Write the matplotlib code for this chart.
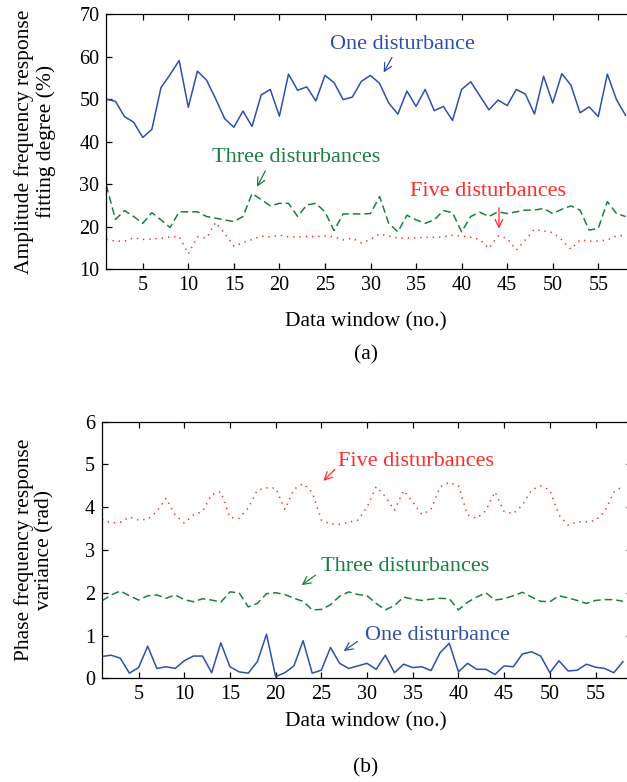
import numpy as np
import matplotlib
matplotlib.use("Agg")
import matplotlib.pyplot as plt

plt.rcParams["font.family"] = ["Liberation Serif", "DejaVu Serif"]

# data window index
windows = np.arange(1, 59)

# (a) amplitude frequency response fitting degree (%)
amp_one = [50.0, 49.5, 45.9, 44.6, 41.0, 42.9, 52.7, 55.8, 59.1, 48.1,
           56.6, 54.5, 50.1, 45.4, 43.4, 47.2, 43.6, 51.0, 52.3, 46.0,
           55.9, 52.1, 52.9, 49.6, 55.6, 53.9, 49.9, 50.5, 54.2, 55.6,
           53.7, 49.1, 46.5, 51.9, 48.3, 52.3, 47.3, 48.3, 45.0, 52.3,
           54.1, 50.8, 47.5, 49.8, 48.5, 52.3, 51.2, 46.5, 55.4, 49.1,
           56.0, 53.3, 46.8, 48.2, 45.9, 55.9, 49.9, 46.2]
amp_three = [29.8, 21.7, 23.8, 22.4, 20.8, 23.3, 21.6, 19.8, 23.5, 23.5,
             23.5, 22.4, 22.0, 21.6, 21.2, 22.4, 27.8, 26.4, 24.9, 25.5,
             25.5, 22.4, 25.1, 25.5, 23.5, 19.1, 23.0, 23.0, 23.0, 23.1,
             27.1, 20.8, 18.8, 22.7, 21.6, 20.8, 21.6, 23.8, 23.3, 18.8,
             22.4, 23.4, 22.4, 23.5, 23.1, 23.5, 23.9, 23.9, 24.3, 23.1,
             24.1, 24.9, 23.9, 19.2, 19.6, 25.9, 23.1, 22.4]
amp_five = [17.0, 16.6, 16.6, 17.4, 17.0, 17.1, 17.3, 17.6, 17.7, 13.6,
            17.6, 17.3, 21.0, 18.4, 15.4, 16.2, 17.0, 17.8, 17.6, 18.0,
            17.6, 17.6, 17.7, 17.7, 17.8, 17.6, 16.9, 17.3, 16.2, 17.0,
            18.3, 17.8, 17.3, 17.3, 17.4, 17.5, 17.5, 17.6, 18.0, 17.8,
            17.5, 17.0, 14.9, 17.8, 17.3, 14.5, 16.9, 19.4, 19.0, 18.6,
            16.9, 14.7, 16.9, 16.6, 16.6, 16.9, 17.8, 18.0]

# (b) phase frequency response variance (rad)
ph_one = [0.51, 0.54, 0.47, 0.12, 0.25, 0.75, 0.23, 0.27, 0.23, 0.41,
          0.52, 0.52, 0.13, 0.83, 0.27, 0.15, 0.12, 0.39, 1.03, 0.04,
          0.13, 0.29, 0.88, 0.12, 0.19, 0.72, 0.35, 0.23, 0.29, 0.35,
          0.21, 0.54, 0.13, 0.33, 0.25, 0.27, 0.18, 0.60, 0.82, 0.15,
          0.35, 0.21, 0.21, 0.09, 0.29, 0.27, 0.57, 0.62, 0.52, 0.13,
          0.41, 0.17, 0.19, 0.33, 0.26, 0.23, 0.13, 0.39]
ph_three = [1.81, 1.95, 2.04, 1.93, 1.83, 1.93, 1.95, 1.87, 1.95, 1.84,
            1.79, 1.86, 1.83, 1.78, 2.02, 2.00, 1.67, 1.75, 1.98, 2.00,
            1.96, 1.87, 1.80, 1.60, 1.61, 1.72, 1.92, 2.02, 1.96, 1.93,
            1.75, 1.60, 1.70, 1.90, 1.85, 1.82, 1.85, 1.87, 1.86, 1.60,
            1.78, 1.90, 2.00, 1.83, 1.86, 1.93, 2.01, 1.90, 1.80, 1.79,
            1.93, 1.88, 1.82, 1.75, 1.82, 1.84, 1.84, 1.80]
ph_five = [3.72, 3.63, 3.65, 3.77, 3.70, 3.72, 3.90, 4.21, 3.82, 3.63,
           3.82, 3.90, 4.30, 4.36, 3.76, 3.74, 3.98, 4.40, 4.45, 4.45,
           3.95, 4.42, 4.55, 4.35, 3.70, 3.61, 3.60, 3.65, 3.70, 4.00,
           4.48, 4.25, 3.93, 4.39, 4.12, 3.83, 3.95, 4.48, 4.58, 4.50,
           3.82, 3.74, 3.92, 4.36, 3.90, 3.85, 4.05, 4.40, 4.50, 4.40,
           3.82, 3.58, 3.66, 3.66, 3.69, 3.90, 4.35, 4.50]

blue = "#2f4fad"
green = "#1a8040"
red = "#ff2a2a"
fs_tick = 14.5   # tick labels
fs_lab = 15.5    # axis labels
fs_ann = 16      # curve annotations

fig = plt.figure(figsize=(6.27, 7.82), dpi=100)
W, H = 627.0, 782.0

# axes placed in pixels; right edge runs just past the figure, as in the original crop
ax1 = fig.add_axes([106.3 / W, 1 - 269.2 / H, 528.4 / W, 255.0 / H])
ax2 = fig.add_axes([102.0 / W, 1 - 678.3 / H, 530.1 / W, 256.6 / H])


def draw(ax, one, three, five):
    ax.plot(windows, one, color=blue, lw=1.1)
    ax.plot(windows, three, color=green, lw=1.1, dashes=(5, 2.6))
    ax.plot(windows, five, color=red, lw=1.1, dashes=(0.9, 3.2))
    ax.set_xlim(1, 59)
    ax.set_xticks(np.arange(5, 59, 5))
    ax.tick_params(direction="in", length=4, width=0.9, top=True, right=True,
                   labelsize=fs_tick, pad=5)
    for s in ax.spines.values():
        s.set_linewidth(0.9)


draw(ax1, amp_one, amp_three, amp_five)
ax1.set_ylim(10, 70)
ax1.set_yticks(np.arange(10, 71, 10))

draw(ax2, ph_one, ph_three, ph_five)
ax2.set_ylim(0, 6)
ax2.set_yticks(np.arange(0, 7, 1))

arw = dict(arrowstyle="->", lw=0.9, mutation_scale=14)

# annotations (a)
ax1.text(33.5, 62.8, "One disturbance", color=blue, fontsize=fs_ann, ha="center", va="center")
ax1.annotate("", xy=(31.3, 55.7), xytext=(32.5, 60.4), arrowprops=dict(arw, color=blue))
ax1.text(21.8, 36.4, "Three disturbances", color=green, fontsize=fs_ann, ha="center", va="center")
ax1.annotate("", xy=(17.4, 28.8), xytext=(18.6, 33.7), arrowprops=dict(arw, color=green))
ax1.text(42.9, 28.4, "Five disturbances", color=red, fontsize=fs_ann, ha="center", va="center")
ax1.annotate("", xy=(44.1, 18.9), xytext=(44.1, 25.1), arrowprops=dict(arw, color=red))

# annotations (b)
ax2.text(35.4, 5.08, "Five disturbances", color=red, fontsize=fs_ann, ha="center", va="center")
ax2.annotate("", xy=(25.0, 4.57), xytext=(26.7, 4.93), arrowprops=dict(arw, color=red))
ax2.text(34.2, 2.61, "Three disturbances", color=green, fontsize=fs_ann, ha="center", va="center")
ax2.annotate("", xy=(22.6, 2.14), xytext=(24.6, 2.45), arrowprops=dict(arw, color=green))
ax2.text(37.7, 0.99, "One disturbance", color=blue, fontsize=fs_ann, ha="center", va="center")
ax2.annotate("", xy=(27.2, 0.6), xytext=(29.2, 0.9), arrowprops=dict(arw, color=blue))

# labels
fig.text(35 / W, 1 - 141.7 / H, "Amplitude frequency response\nfitting degree (%)",
         rotation=90, ha="center", va="center", fontsize=fs_lab, linespacing=1.1)
fig.text(366 / W, 1 - 322 / H, "Data window (no.)", ha="center", va="center", fontsize=fs_lab)
fig.text(366 / W, 1 - 355 / H, "(a)", ha="center", va="center", fontsize=fs_lab)

fig.text(34 / W, 1 - 550 / H, "Phase frequency response\nvariance (rad)",
         rotation=90, ha="center", va="center", fontsize=fs_lab, linespacing=1.1)
fig.text(366 / W, 1 - 722 / H, "Data window (no.)", ha="center", va="center", fontsize=fs_lab)
fig.text(366 / W, 1 - 768 / H, "(b)", ha="center", va="center", fontsize=fs_lab)

fig.savefig("out.png", dpi=100)
